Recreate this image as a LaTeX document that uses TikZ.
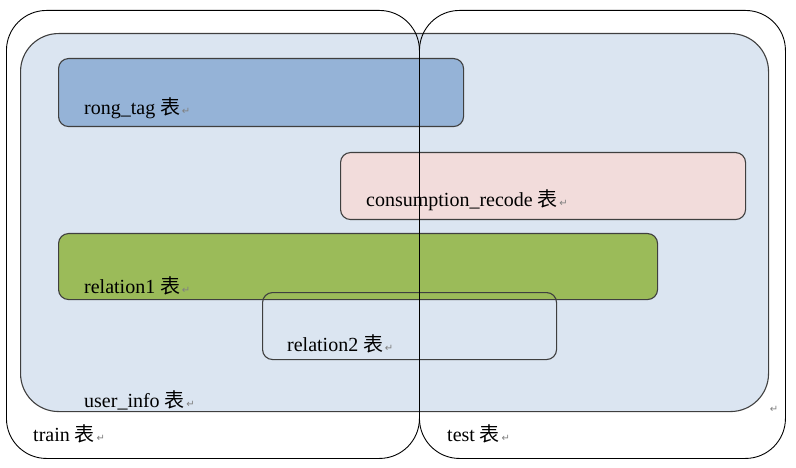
\documentclass[tikz,border=0pt]{standalone}
\usepackage{fontspec}
\setmainfont{Liberation Serif}
\newfontfamily\cjk{Noto Sans CJK SC}
\newfontfamily\parafont{DejaVu Sans}
\usepackage{tikz}
\usetikzlibrary{positioning}
\definecolor{infoblue}{HTML}{DBE5F1}
\definecolor{tagblue}{HTML}{95B3D7}
\definecolor{recpink}{HTML}{F2DCDB}
\definecolor{relgreen}{HTML}{9BBB59}
\definecolor{edgegray}{HTML}{3F3F3F}
\newcommand{\biao}{{\cjk 表}}
\newcommand{\pmark}{{\parafont\fontsize{10}{10}\selectfont\color{gray}\,↵}}
\tikzset{
  tablebox/.style={rectangle, draw=edgegray, line width=1.1pt, rounded corners=10pt, anchor=north west, inner sep=0pt},
  setbox/.style={tablebox, draw=black, line width=0.9pt, rounded corners=40pt},
  tabletext/.style={anchor=base west, inner sep=0pt, font=\fontsize{20}{24}\selectfont},
}

\begin{document}
\begin{tikzpicture}[x=1pt, y=-1pt]
    \useasboundingbox (0,0) rectangle (796,468);
    % outer user_info table
    \node[tablebox, rounded corners=38pt, fill=infoblue, minimum width=748pt, minimum height=378pt] (userinfo) at (20,33) {};
    % the tables inside
    \node[tablebox, fill=tagblue, minimum width=405pt, minimum height=68pt] (rongtag) at (58,58) {};
    \node[tablebox, fill=recpink, minimum width=405pt, minimum height=67pt] (consumption) at (340,152) {};
    \node[tablebox, fill=relgreen, minimum width=599pt, minimum height=66pt] (relation1) at (58,233) {};
    \node[tablebox, draw=edgegray, minimum width=294pt, minimum height=67pt] (relation2) at (262,292) {};
    % train / test split
    \node[setbox, minimum width=413pt, minimum height=448pt] (train) at (6,10) {};
    \node[setbox, minimum width=366pt, minimum height=448pt] (test) at (419,10) {};
    % names
    \node[tabletext] (rongtagtext) at (84,115) {rong\_tag \biao\pmark};
    \node[tabletext] (consumptiontext) at (366,207) {consumption\_recode \biao\pmark};
    \node[tabletext] (relation1text) at (84,293) {relation1 \biao\pmark};
    \node[tabletext] (relation2text) at (287,351) {relation2 \biao\pmark};
    \node[tabletext] (userinfotext) at (84,407) {user\_info \biao\pmark};
    \node[tabletext] (traintext) at (33,441) {train \biao\pmark};
    \node[tabletext] (testtext) at (447,441) {test \biao\pmark};
    \node[anchor=base west, inner sep=0pt] (endmark) at (768,412) {\pmark};
\end{tikzpicture}
\end{document}
